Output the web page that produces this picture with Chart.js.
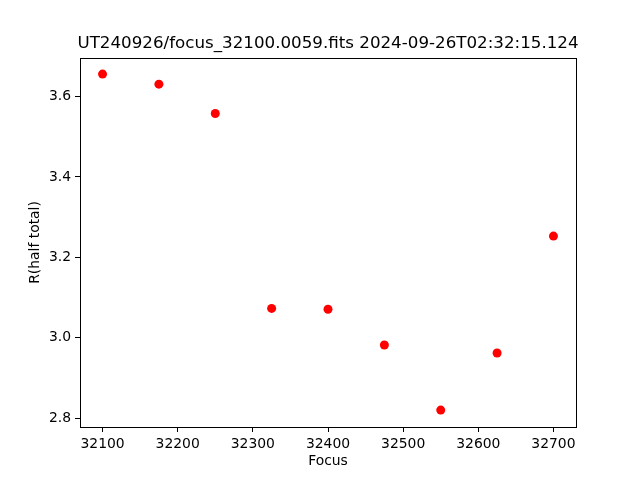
<!DOCTYPE html>
<html>
<head>
<meta charset="utf-8">
<script src="https://cdn.jsdelivr.net/npm/chart.js@4/dist/chart.umd.min.js"></script>
<style>
  body { margin: 0; background: #fff; }
</style>
</head>
<body>
<canvas id="chart" width="640" height="480"></canvas>
<script>
// focus positions and measured radius
const focus = [32100, 32175, 32250, 32325, 32400, 32475, 32550, 32625, 32700];
const rHalf = [3.656, 3.631, 3.558, 3.073, 3.071, 2.982, 2.820, 2.962, 3.253];
const xTicks = [32100, 32200, 32300, 32400, 32500, 32600, 32700];
const yTicks = [2.8, 3.0, 3.2, 3.4, 3.6];
const titleText = 'UT240926/focus_32100.0059.fits 2024-09-26T02:32:15.124';

const font = 'DejaVu Sans';

// box around the plot area + title centred over the axes (matplotlib style)
const frame = {
  id: 'frame',
  afterDraw(chart) {
    const { ctx, chartArea: a } = chart;
    ctx.save();
    ctx.strokeStyle = '#000';
    ctx.lineWidth = 1;
    ctx.strokeRect(Math.round(a.left) + 0.5, Math.round(a.top) + 0.5,
      Math.round(a.right - a.left), Math.round(a.bottom - a.top));
    ctx.fillStyle = '#000';
    ctx.font = '16.7px "' + font + '"';
    ctx.textAlign = 'center';
    ctx.textBaseline = 'middle';
    ctx.fillText(titleText, (a.left + a.right) / 2, 44);
    ctx.restore();
  }
};

new Chart(document.getElementById('chart'), {
  type: 'scatter',
  data: {
    datasets: [{
      data: focus.map((f, i) => ({ x: f, y: rHalf[i] })),
      backgroundColor: '#ff0000',
      borderWidth: 0,
      pointRadius: 4.5,
      pointHoverRadius: 4.5
    }]
  },
  options: {
    responsive: false,
    animation: false,
    layout: { padding: { left: 0, right: 64, top: 58, bottom: 0 } },
    plugins: {
      legend: { display: false },
      tooltip: { enabled: false },
      title: { display: false }
    },
    scales: {
      x: {
        type: 'linear',
        min: 32070,
        max: 32730,
        afterBuildTicks: s => { s.ticks = xTicks.map(v => ({ value: v })); },
        afterFit: s => { s.height = 53; },
        border: { display: true, color: '#000', width: 1 },
        grid: { drawOnChartArea: false, drawTicks: true, tickLength: 5, color: '#000' },
        ticks: {
          color: '#000',
          font: { family: font, size: 13.9 },
          padding: 4,
          autoSkip: false,
          maxRotation: 0,
          callback: v => String(v)
        },
        title: {
          display: true,
          text: 'Focus',
          color: '#000',
          font: { family: font, size: 13.9 },
          padding: { top: 0, bottom: 10.7 }
        }
      },
      y: {
        type: 'linear',
        min: 2.778,
        max: 3.696,
        afterBuildTicks: s => { s.ticks = yTicks.map(v => ({ value: v })); },
        afterFit: s => { s.width = 80; },
        border: { display: true, color: '#000', width: 1 },
        grid: { drawOnChartArea: false, drawTicks: true, tickLength: 5, color: '#000' },
        ticks: {
          color: '#000',
          font: { family: font, size: 13.9 },
          padding: 4,
          callback: v => v.toFixed(1)
        },
        title: {
          display: true,
          text: 'R(half total)',
          color: '#000',
          font: { family: font, size: 13.9 },
          padding: { top: 26.7, bottom: 0 }
        }
      }
    }
  },
  plugins: [frame]
});
</script>
</body>
</html>
